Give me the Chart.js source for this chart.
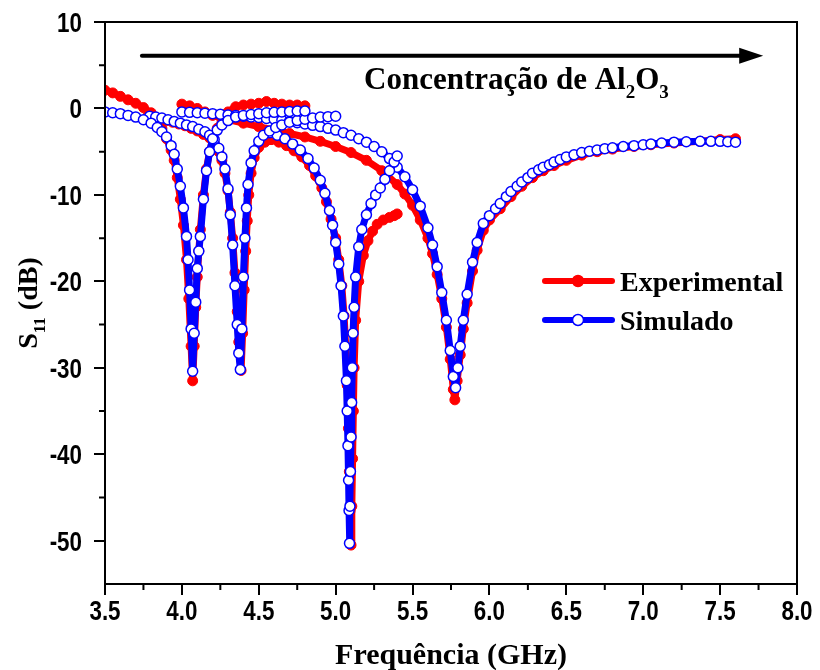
<!DOCTYPE html>
<html>
<head>
<meta charset="utf-8">
<script src="https://cdn.jsdelivr.net/npm/chart.js@4.4.1/dist/chart.umd.min.js"></script>
<style>
  html, body { margin: 0; padding: 0; background: #fff; }
  #wrap { width: 820px; height: 670px; position: relative; }
</style>
</head>
<body>
<div id="wrap"><canvas id="s11"></canvas></div>
<script>
/* S11 response of four resonators, measured vs simulated. */

const X_TICKS = [3.5, 4.0, 4.5, 5.0, 5.5, 6.0, 6.5, 7.0, 7.5, 8.0];
const X_LABELS = ["3.5", "4.0", "4.5", "5.0", "5.5", "6.0", "6.5", "7.0", "7.5", "8.0"];
const X_MINOR = [3.75, 4.25, 4.75, 5.25, 5.75, 6.25, 6.75, 7.25, 7.75];
const Y_TICKS = [10, 0, -10, -20, -30, -40, -50];
const Y_LABELS = ["10", "0", "-10", "-20", "-30", "-40", "-50"];
const Y_MINOR = [5, -5, -15, -25, -35, -45];

// sample A, dip near 4.07 GHz
const EXP_A_F = [3.50,3.55,3.60,3.65,3.70, 3.75,3.80,3.84,3.87,3.90, 3.93,3.95,3.97,3.99,4.01,
  4.03,4.045,4.06,4.07,4.08, 4.09,4.10,4.11,4.12,4.14, 4.16,4.18,4.20,4.23,4.26,
  4.30,4.35,4.40,4.45,4.50, 4.55,4.60,4.65,4.70,4.75, 4.80];
const EXP_A_DB = [2.1,1.8,1.4,1.0,0.6, 0.1,-0.5,-1.4,-2.3,-3.5, -4.8,-6.0,-8.0,-10.5,-13.5,
  -17.5,-22.0,-27.5,-31.5,-27.5, -23.0,-19.5,-16.5,-14.0,-10.0, -7.0,-5.0,-3.6,-2.3,-1.3,
  -0.4,0.2,0.4,0.5,0.6, 0.8,0.6,0.5,0.4,0.4, 0.3];
const SIM_A_F = [3.50,3.55,3.60,3.65,3.70, 3.75,3.80,3.84,3.87,3.90, 3.93,3.95,3.97,3.99,4.01,
  4.03,4.04,4.05,4.06,4.07, 4.08,4.09,4.10,4.11,4.12, 4.14,4.16,4.18,4.20,4.23,
  4.26,4.30,4.35,4.40,4.45, 4.50,4.55,4.60,4.65,4.70, 4.75,4.80];
const SIM_A_DB = [-0.4,-0.5,-0.6,-0.8,-1.0, -1.3,-1.7,-2.2,-2.7,-3.3, -4.3,-5.3,-7.0,-9.0,-11.5,
  -14.8,-17.5,-21.0,-25.5,-30.4, -26.0,-22.4,-18.5,-16.5,-14.8, -10.5,-7.2,-5.0,-3.5,-2.5,
  -1.9,-1.4,-1.0,-0.8,-0.7, -0.6,-0.5,-0.45,-0.4,-0.35, -0.3,-0.3];

// sample B, dip near 4.38 GHz
const EXP_B_F = [3.78,3.82,3.86,3.90,3.94, 3.98,4.02,4.06,4.10,4.14, 4.18,4.21,4.24,4.26,4.28,
  4.30,4.315,4.33,4.345,4.36, 4.37,4.385,4.395,4.405,4.415, 4.425,4.435,4.45,4.47,4.50,
  4.54,4.58];
const EXP_B_DB = [-0.8,-1.0,-1.2,-1.4,-1.6, -1.8,-2.0,-2.3,-2.6,-3.0, -3.4,-4.0,-5.0,-6.0,-7.5,
  -9.5,-12.0,-15.0,-19.0,-23.5, -27.0,-30.3,-26.0,-21.0,-16.5, -13.0,-10.0,-7.5,-5.7,-4.5,
  -3.9,-3.6];
const SIM_B_F = [3.79,3.83,3.87,3.91,3.95, 3.99,4.03,4.07,4.11,4.15, 4.18,4.21,4.24,4.26,4.28,
  4.30,4.315,4.33,4.345,4.36, 4.37,4.38,4.39,4.40,4.41, 4.42,4.43,4.45,4.47,4.50,
  4.53,4.57,4.61,4.65,4.70, 4.75,4.80,4.85,4.90,4.95, 5.00];
const SIM_B_DB = [-0.9,-1.0,-1.1,-1.3,-1.5, -1.7,-1.9,-2.1,-2.4,-2.7, -3.1,-3.6,-4.6,-5.6,-7.0,
  -9.3,-12.3,-15.8,-20.5,-25.0, -28.3,-30.2,-25.5,-19.5,-15.0, -11.5,-8.8,-6.3,-4.9,-3.8,
  -3.1,-2.6,-2.2,-1.9,-1.6, -1.4,-1.25,-1.1,-1.0,-0.95, -0.9];

// sample C, dip near 5.09 GHz
const EXP_C_F = [4.58,4.63,4.68,4.73,4.78, 4.83,4.87,4.91,4.94,4.97, 5.00,5.02,5.04,5.055,5.065,
  5.075,5.083,5.089,5.094,5.10, 5.105,5.11,5.115,5.12,5.13, 5.15,5.18,5.21,5.24,5.27,
  5.31,5.35,5.38,5.40];
const EXP_C_DB = [-3.6,-3.9,-4.3,-4.9,-5.6, -6.6,-7.8,-9.2,-10.8,-12.8, -15.0,-17.5,-20.5,-24.0,-27.5,
  -32.0,-37.0,-42.0,-46.5,-50.5, -46.0,-40.5,-35.0,-30.0,-24.5, -20.0,-17.0,-15.3,-14.2,-13.4,
  -12.9,-12.6,-12.4,-12.2];
const SIM_C_F = [4.57,4.62,4.67,4.72,4.77, 4.82,4.86,4.90,4.93,4.96, 4.98,5.00,5.02,5.035,5.05,
  5.06,5.07,5.075,5.08,5.084, 5.087,5.09,5.093,5.096,5.10, 5.104,5.108,5.113,5.12,5.13,
  5.15,5.17,5.20,5.23,5.26, 5.29,5.32,5.35,5.38,5.40];
const SIM_C_DB = [-2.8,-3.1,-3.5,-4.1,-4.8, -5.8,-6.9,-8.3,-9.8,-11.8, -13.5,-15.5,-18.0,-20.5,-24.0,
  -27.5,-31.5,-35.0,-39.0,-43.0, -46.5,-50.3,-46.0,-42.0,-38.0, -34.0,-30.0,-26.0,-23.0,-19.5,
  -16.0,-14.0,-12.3,-11.0,-10.0, -9.2,-8.2,-7.2,-6.2,-5.5];

// sample D, dip near 5.77 GHz
const EXP_D_F = [4.00,4.05,4.10,4.15,4.20, 4.30,4.40,4.50,4.60,4.70, 4.80,4.90,5.00,5.10,5.20,
  5.30,5.40,5.45,5.50,5.55, 5.60,5.63,5.66,5.69,5.72, 5.745,5.765,5.775,5.79,5.81,
  5.83,5.855,5.89,5.92,5.96, 6.00,6.07,6.14,6.21,6.28, 6.35,6.42,6.50,6.60,6.70,
  6.80,6.94,7.05,7.20,7.37, 7.50,7.60];
const EXP_D_DB = [0.5,0.3,0.0,-0.4,-0.8, -1.3,-1.7,-2.1,-2.5,-2.9, -3.3,-3.8,-4.4,-5.1,-6.0,
  -7.2,-8.8,-9.9,-11.2,-12.9, -15.0,-16.8,-19.2,-22.0,-25.3, -29.0,-32.5,-33.7,-31.5,-28.5,
  -25.5,-22.5,-18.8,-16.4,-14.1, -12.9,-11.6,-10.2,-9.0,-8.0, -7.2,-6.6,-6.0,-5.4,-5.0,
  -4.7,-4.4,-4.2,-4.0,-3.8, -3.6,-3.5];
const SIM_D_F = [4.00,4.05,4.10,4.15,4.20, 4.25,4.30,4.35,4.40,4.45, 4.50,4.55,4.60,4.65,4.70,
  4.75,4.80,4.85,4.90,4.95, 5.00,5.05,5.10,5.15,5.20, 5.25,5.30,5.35,5.40,5.45,
  5.50,5.55,5.60,5.63,5.66, 5.69,5.72,5.745,5.765,5.78, 5.795,5.81,5.83,5.855,5.89,
  5.92,5.96,6.00,6.04,6.07, 6.11,6.14,6.18,6.21,6.25, 6.28,6.32,6.35,6.39,6.42,
  6.46,6.50,6.55,6.60,6.65, 6.70,6.75,6.80,6.87,6.94, 7.00,7.05,7.12,7.20,7.28,
  7.37,7.44,7.50,7.55,7.60];
const SIM_D_DB = [-0.4,-0.45,-0.5,-0.55,-0.6, -0.68,-0.75,-0.82,-0.9,-0.98, -1.05,-1.15,-1.25,-1.37,-1.5,
  -1.65,-1.8,-1.95,-2.1,-2.3, -2.5,-2.8,-3.1,-3.5,-3.9, -4.4,-5.0,-5.8,-6.8,-7.9,
  -9.4,-11.3,-13.8,-15.8,-18.3, -21.3,-24.5,-28.0,-31.0,-32.3, -30.0,-27.5,-24.5,-21.5,-17.8,
  -15.5,-13.3,-12.4,-11.6,-11.0, -10.2,-9.6,-9.0,-8.5,-8.0, -7.5,-7.1,-6.8,-6.5,-6.2,
  -5.9,-5.6,-5.35,-5.1,-4.95, -4.8,-4.65,-4.55,-4.4,-4.3, -4.2,-4.1,-4.0,-3.9,-3.85,
  -3.8,-3.8,-3.8,-3.85,-3.9];

const RED = "#ff0000";
const BLUE = "#0000ff";
const SERIF = '"Liberation Serif", "Times New Roman", serif';
const SANS = '"Liberation Sans", Arial, sans-serif';

const pts = (f, db) => f.map((x, i) => ({ x, y: db[i] }));

function expSet(label, f, db) {
  return {
    label, data: pts(f, db), showLine: true, order: 2,
    borderColor: RED, borderWidth: 7, borderJoinStyle: "round", borderCapStyle: "round",
    pointRadius: 5, pointBackgroundColor: RED, pointBorderColor: RED, pointBorderWidth: 1,
  };
}

function simSet(label, f, db) {
  return {
    label, data: pts(f, db), showLine: true, order: 1,
    borderColor: BLUE, borderWidth: 7, borderJoinStyle: "round", borderCapStyle: "round",
    pointRadius: 5, pointBackgroundColor: "#fff", pointBorderColor: BLUE, pointBorderWidth: 1.5,
  };
}

// text runs with optional subscripts, e.g. [["Al"], ["2", true], ["O"], ["3", true]]
function runWidth(ctx, runs, size) {
  let w = 0;
  for (const [t, sub] of runs) {
    ctx.font = `bold ${sub ? Math.round(size * 0.62) : size}px ${SERIF}`;
    w += ctx.measureText(t).width;
  }
  return w;
}

function drawRuns(ctx, runs, x, y, size) {
  for (const [t, sub] of runs) {
    ctx.font = `bold ${sub ? Math.round(size * 0.62) : size}px ${SERIF}`;
    ctx.fillText(t, x, sub ? y + size * 0.28 : y);
    x += ctx.measureText(t).width;
  }
}

// narrow bold numerals, squeezed horizontally around their anchor
function drawNarrow(ctx, text, x, y, align) {
  const squeeze = 0.8;
  ctx.save();
  ctx.translate(x, y);
  ctx.scale(squeeze, 1);
  ctx.font = `bold 28px ${SANS}`;
  ctx.textAlign = align;
  ctx.fillText(text, 0, 0);
  ctx.restore();
}

const decor = {
  id: "decor",
  afterDraw(chart) {
    const { ctx, chartArea: a, scales: { x, y } } = chart;
    ctx.save();
    ctx.strokeStyle = "#000";
    ctx.fillStyle = "#000";

    // frame
    ctx.lineWidth = 2;
    ctx.strokeRect(a.left, a.top, a.right - a.left, a.bottom - a.top);

    // minor ticks
    ctx.beginPath();
    for (const v of X_MINOR) {
      const px = x.getPixelForValue(v);
      ctx.moveTo(px, a.bottom); ctx.lineTo(px, a.bottom + 6);
    }
    for (const v of Y_MINOR) {
      const py = y.getPixelForValue(v);
      ctx.moveTo(a.left, py); ctx.lineTo(a.left - 6, py);
    }
    ctx.stroke();

    // tick labels
    ctx.textBaseline = "alphabetic";
    X_TICKS.forEach((v, i) => drawNarrow(ctx, X_LABELS[i], x.getPixelForValue(v), a.bottom + 36, "center"));
    Y_TICKS.forEach((v, i) => drawNarrow(ctx, Y_LABELS[i], a.left - 23, y.getPixelForValue(v) + 10, "right"));

    // concentration arrow
    const ay = y.getPixelForValue(6.1);
    const ax0 = x.getPixelForValue(3.74), ax1 = x.getPixelForValue(7.78);
    ctx.lineWidth = 4;
    ctx.lineCap = "round";
    ctx.beginPath(); ctx.moveTo(ax0, ay); ctx.lineTo(ax1 - 18, ay); ctx.stroke();
    ctx.beginPath();
    ctx.moveTo(ax1, ay); ctx.lineTo(ax1 - 24, ay - 8); ctx.lineTo(ax1 - 24, ay + 8);
    ctx.closePath(); ctx.fill();

    ctx.textAlign = "left";
    drawRuns(ctx, [["Concentração de Al"], ["2", true], ["O"], ["3", true]], 364, 89, 31);

    // legend
    const legend = [
      { text: "Experimental", color: RED, fill: RED },
      { text: "Simulado", color: BLUE, fill: "#fff" },
    ];
    legend.forEach((item, i) => {
      const ly = 281 + i * 39;
      ctx.strokeStyle = item.color;
      ctx.lineWidth = 6;
      ctx.lineCap = "round";
      ctx.beginPath(); ctx.moveTo(545, ly); ctx.lineTo(612, ly); ctx.stroke();
      ctx.beginPath(); ctx.arc(578, ly, 5.5, 0, Math.PI * 2);
      ctx.fillStyle = item.fill; ctx.fill();
      ctx.lineWidth = 1.5; ctx.stroke();
      ctx.fillStyle = "#000";
      ctx.font = `bold 28px ${SERIF}`;
      ctx.fillText(item.text, 620, ly + 10);
    });

    // axis titles
    ctx.textAlign = "center";
    ctx.font = `bold 30px ${SERIF}`;
    ctx.fillText("Frequência (GHz)", (a.left + a.right) / 2, 664);

    const yRuns = [["S"], ["11", true], [" (dB)"]];
    ctx.textAlign = "left";
    ctx.translate(37, (a.top + a.bottom) / 2);
    ctx.rotate(-Math.PI / 2);
    drawRuns(ctx, yRuns, -runWidth(ctx, yRuns, 28) / 2, 0, 28);
    ctx.restore();
  },
};

const hidden = "rgba(0,0,0,0)";

new Chart(document.getElementById("s11"), {
  type: "scatter",
  data: {
    datasets: [
      expSet("Experimental", EXP_A_F, EXP_A_DB),
      expSet("Experimental B", EXP_B_F, EXP_B_DB),
      expSet("Experimental C", EXP_C_F, EXP_C_DB),
      expSet("Experimental D", EXP_D_F, EXP_D_DB),
      simSet("Simulado", SIM_A_F, SIM_A_DB),
      simSet("Simulado B", SIM_B_F, SIM_B_DB),
      simSet("Simulado C", SIM_C_F, SIM_C_DB),
      simSet("Simulado D", SIM_D_F, SIM_D_DB),
    ],
  },
  options: {
    responsive: true,
    maintainAspectRatio: false,
    animation: false,
    layout: { padding: { top: 22, right: 23, left: 0, bottom: 0 } },
    plugins: { legend: { display: false }, tooltip: { enabled: false } },
    scales: {
      x: {
        type: "linear", min: 3.5, max: 8.0,
        afterBuildTicks: s => { s.ticks = X_TICKS.map(v => ({ value: v })); },
        afterFit: s => { s.height = 86; },
        ticks: { color: hidden, font: { size: 20 }, maxRotation: 0 },
        grid: { drawOnChartArea: false, drawTicks: true, tickLength: 11, color: "#000", lineWidth: 2 },
        border: { display: true, color: "#000", width: 2 },
      },
      y: {
        type: "linear", min: -55, max: 10,
        afterBuildTicks: s => { s.ticks = Y_TICKS.map(v => ({ value: v })); },
        afterFit: s => { s.width = 105; },
        ticks: { color: hidden, font: { size: 20 } },
        grid: { drawOnChartArea: false, drawTicks: true, tickLength: 11, color: "#000", lineWidth: 2 },
        border: { display: true, color: "#000", width: 2 },
      },
    },
  },
  plugins: [decor],
});
</script>
</body>
</html>
